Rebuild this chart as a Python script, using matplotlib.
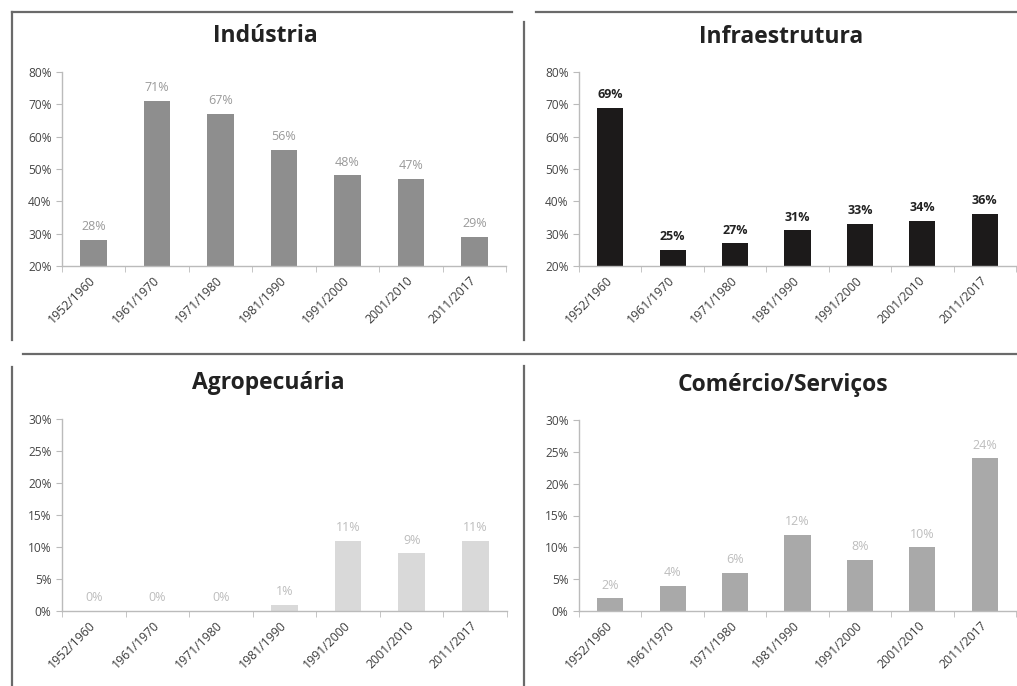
import numpy as np
import matplotlib.pyplot as plt
from matplotlib.lines import Line2D

plt.rcParams['font.family'] = ['Open Sans', 'DejaVu Sans']

periods = ['1952/1960', '1961/1970', '1971/1980', '1981/1990',
           '1991/2000', '2001/2010', '2011/2017']

industria = [28, 71, 67, 56, 48, 47, 29]
infraestrutura = [69, 25, 27, 31, 33, 34, 36]
agropecuaria = [0, 0, 0, 1, 11, 9, 11]
comercio = [2, 4, 6, 12, 8, 10, 24]

W, H = 1017, 686
fig = plt.figure(figsize=(W / 100, H / 100), dpi=100)


def px_axes(x0, x1, ytop, ybot):
    return fig.add_axes([x0 / W, 1 - ybot / H, (x1 - x0) / W, (ybot - ytop) / H])


def draw_panel(ax, values, ylim, yticks, bar_color, lab_color, lab_weight):
    x = np.arange(len(values))
    ax.bar(x, values, width=0.42, color=bar_color)
    ax.set_xlim(-0.5, len(values) - 0.5)
    ax.set_ylim(*ylim)
    ax.set_yticks(yticks)
    ax.set_yticklabels([f'{t}%' for t in yticks])
    ax.set_xticks(x)
    ax.set_xticklabels(periods, rotation=45, ha='right', va='center',
                       rotation_mode='anchor')
    ax.set_xticks(np.arange(len(values) + 1) - 0.5, minor=True)
    ax.tick_params(axis='x', which='major', length=0, pad=9, labelsize=8.8, colors='#3a3a3a')
    ax.tick_params(axis='x', which='minor', length=4, color='#bbbbbb', direction='out')
    ax.tick_params(axis='y', length=4, color='#bbbbbb', labelsize=8.6, labelcolor='#454545')
    for side in ['top', 'right']:
        ax.spines[side].set_visible(False)
    for side in ['left', 'bottom']:
        ax.spines[side].set_color('#bbbbbb')
        ax.spines[side].set_linewidth(1.0)
    span = ylim[1] - ylim[0]
    for xi, v in zip(x, values):
        top = max(v, ylim[0])
        ax.text(xi, top + span * 0.035, f'{v}%', ha='center', va='bottom',
                fontsize=9, color=lab_color, fontweight=lab_weight)


panels = [
    ((62, 506, 72, 266), 'Indústria', (265, 36), industria, (20, 80), range(20, 81, 10),
     '#8e8e8e', '#9a9a9a', 'normal'),
    ((579, 1016, 72, 266), 'Infraestrutura', (781, 37), infraestrutura, (20, 80), range(20, 81, 10),
     '#1c1a1a', '#222222', 'bold'),
    ((62, 507, 419, 611), 'Agropecuária', (268, 383), agropecuaria, (0, 30), range(0, 31, 5),
     '#d9d9d9', '#bdbdbd', 'normal'),
    ((579, 1016, 420, 611), 'Comércio/Serviços', (783, 385), comercio, (0, 30), range(0, 31, 5),
     '#a9a9a9', '#bdbdbd', 'normal'),
]

for box, title, tpos, vals, ylim, ticks, bc, lc, lw in panels:
    ax = px_axes(*box)
    draw_panel(ax, vals, ylim, list(ticks), bc, lc, lw)
    fig.text(tpos[0] / W, 1 - tpos[1] / H, title, ha='center', va='center',
             fontsize=16.5, fontweight='bold', color='#222222')

# panel frame lines
frame = [((12, 512), (12, 12)), ((12, 12), (12, 340)),
         ((536, 1017), (12, 12)), ((524, 524), (22, 340)),
         ((23, 1017), (354, 354)), ((12, 12), (367, 686)),
         ((524, 524), (366, 686))]
for xs, ys in frame:
    fig.add_artist(Line2D([xs[0] / W, xs[1] / W], [1 - ys[0] / H, 1 - ys[1] / H],
                          transform=fig.transFigure, color='#6a6a6a', linewidth=1.6))

fig.savefig('out.png', dpi=100)
